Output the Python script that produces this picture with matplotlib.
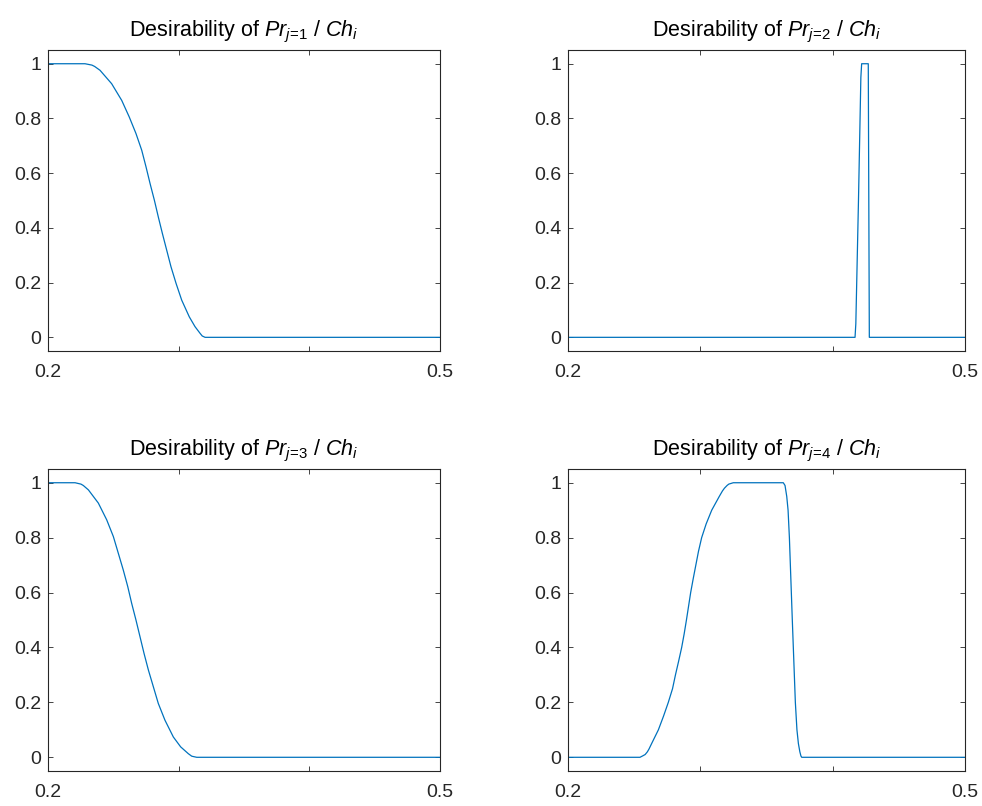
"""
Desirability curves for Pr_j / Ch_i, four panels in MATLAB style.
"""
import matplotlib
matplotlib.use('Agg')
import matplotlib.pyplot as plt

plt.rcParams['font.family'] = ['Liberation Sans', 'DejaVu Sans']
plt.rcParams['mathtext.fontset'] = 'custom'
plt.rcParams['mathtext.rm'] = 'Liberation Sans'
plt.rcParams['mathtext.it'] = 'Liberation Sans:italic'

# values
x1 = [0.20, 0.2283, 0.2336, 0.2357, 0.2398, 0.2487, 0.2564, 0.2622, 0.2673,
      0.2717, 0.2750, 0.2781, 0.2814, 0.2844, 0.2875, 0.2908, 0.2941, 0.2980,
      0.3023, 0.3081, 0.3125, 0.3163, 0.3180, 0.3202, 0.50]
y1 = [1.0, 1.0, 0.995, 0.99, 0.976, 0.927, 0.866, 0.805, 0.745,
      0.684, 0.623, 0.562, 0.501, 0.440, 0.380, 0.319, 0.258, 0.197,
      0.136, 0.075, 0.039, 0.015, 0.005, 0.0, 0.0]

x2 = [0.20, 0.4169, 0.4175, 0.4195, 0.4213, 0.4219, 0.4269, 0.4277, 0.50]
y2 = [0.0, 0.0, 0.05, 0.50, 0.95, 1.0, 1.0, 0.0, 0.0]

x3 = [0.20, 0.2207, 0.2252, 0.2270, 0.2309, 0.2385, 0.2449, 0.2500, 0.2538,
      0.2576, 0.2610, 0.2640, 0.2673, 0.2704, 0.2735, 0.2768, 0.2806, 0.2844,
      0.2895, 0.2959, 0.3015, 0.3074, 0.3100, 0.3138, 0.50]
y3 = [1.0, 1.0, 0.995, 0.99, 0.974, 0.926, 0.865, 0.804, 0.743,
      0.682, 0.622, 0.561, 0.500, 0.439, 0.378, 0.318, 0.257, 0.196,
      0.135, 0.074, 0.038, 0.013, 0.004, 0.0, 0.0]

x4 = [0.20, 0.2544, 0.2564, 0.2583, 0.2600, 0.2612, 0.2632, 0.2683, 0.2722,
      0.2758, 0.2790, 0.2812, 0.2836, 0.2859, 0.2878, 0.2895, 0.2911, 0.2927,
      0.2946, 0.2966, 0.2986, 0.3010, 0.3044, 0.3086, 0.3143, 0.3167, 0.3182,
      0.3202, 0.3215, 0.3249, 0.3627, 0.3640, 0.3653, 0.3663, 0.3673, 0.3695,
      0.3718, 0.3730, 0.3741, 0.3752, 0.3760, 0.3766, 0.50]
y4 = [0.0, 0.0, 0.005, 0.01, 0.02, 0.03, 0.05, 0.10, 0.15,
      0.20, 0.25, 0.30, 0.35, 0.40, 0.45, 0.50, 0.55, 0.60,
      0.65, 0.70, 0.75, 0.80, 0.85, 0.90, 0.95, 0.97, 0.98,
      0.99, 0.995, 1.0, 1.0, 0.99, 0.95, 0.90, 0.80, 0.50,
      0.20, 0.10, 0.05, 0.02, 0.005, 0.0, 0.0]

series = [(x1, y1, 1), (x2, y2, 2), (x3, y3, 3), (x4, y4, 4)]

xticks = [0.2, 0.3, 0.4, 0.5]
xticklabels = ['0.2', '', '', '0.5']
yticks = [0, 0.2, 0.4, 0.6, 0.8, 1]
yticklabels = ['0', '0.2', '0.4', '0.6', '0.8', '1']

axis_color = '#262626'
line_color = '#0072BD'

fig = plt.figure(figsize=(9.82, 8.06), dpi=100)

# axes boxes in figure fractions (left, bottom, width, height)
positions = [
    (0.0489, 0.5645, 0.3992, 0.3734),
    (0.5784, 0.5645, 0.4043, 0.3734),
    (0.0489, 0.0434, 0.3992, 0.3747),
    (0.5784, 0.0434, 0.4043, 0.3747),
]

for (x, y, j), pos in zip(series, positions):
    ax = fig.add_axes(pos)
    ax.plot(x, y, color=line_color, linewidth=0.9)
    ax.set_xlim(0.2, 0.5)
    ax.set_ylim(-0.05, 1.05)
    ax.set_xticks(xticks)
    ax.set_xticklabels(xticklabels)
    ax.set_yticks(yticks)
    ax.set_yticklabels(yticklabels)
    ax.tick_params(direction='in', length=3.6, width=0.6, colors=axis_color,
                   labelsize=14, top=True, right=True)
    ax.tick_params(axis='x', pad=9)
    ax.tick_params(axis='y', pad=5)
    for sp in ax.spines.values():
        sp.set_color(axis_color)
        sp.set_linewidth(0.8)
    title = (r'Desirability of $\mathit{Pr}_{\mathit{j}\!=\!\mathit{%d}}'
             r'\mathit{\ /\ Ch}_{\mathit{i}}$' % j)
    ax.set_title(title, fontsize=15.5, color='black', pad=10)

fig.savefig('out.png', dpi=100)
plt.close(fig)
